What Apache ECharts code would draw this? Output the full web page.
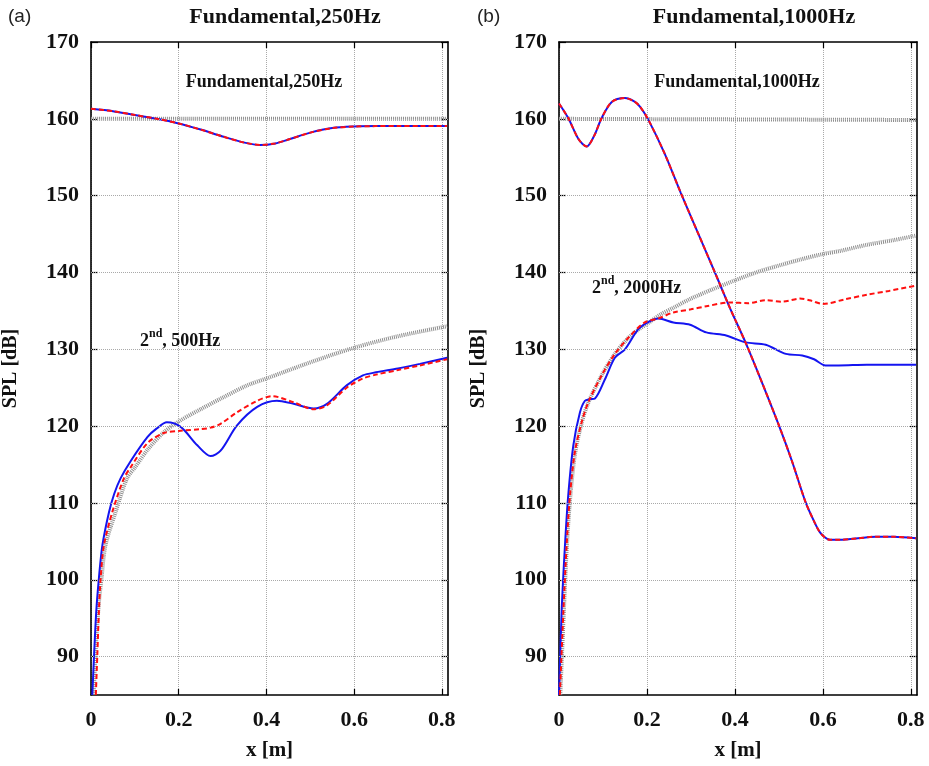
<!DOCTYPE html>
<html><head><meta charset="utf-8">
<script src="https://cdn.jsdelivr.net/npm/echarts@6/dist/echarts.min.js"></script>
<style>html,body{margin:0;padding:0;background:#fff}#c{width:929px;height:766px}</style>
</head><body><div id="c"></div>
<script>
// ---------- Tick labels ----------
const xTicks = [0, 0.2, 0.4, 0.6, 0.8];
const yTicks = [90, 100, 110, 120, 130, 140, 150, 160, 170];

// ---------- Panel (a): 250 Hz ----------
const aFundX    = [0, 0.05, 0.1, 0.15, 0.2, 0.25, 0.3, 0.35, 0.386, 0.42, 0.45, 0.5, 0.55, 0.6, 0.65, 0.7, 0.75, 0.812];
const aFundBlue = [161.3, 161.0, 160.5, 160.0, 159.4, 158.6, 157.7, 156.9, 156.6, 156.8, 157.3, 158.2, 158.8, 159.0, 159.05, 159.05, 159.05, 159.05];
const aFundRed  = [161.3, 161.0, 160.5, 160.0, 159.4, 158.6, 157.7, 156.9, 156.6, 156.8, 157.3, 158.2, 158.8, 159.0, 159.05, 159.05, 159.05, 159.05];
const aFundRefX = [0, 0.812];
const aFundRef  = [160.0, 160.0];

const aSecBlueX = [0.003, 0.007, 0.012, 0.018, 0.026, 0.041, 0.053, 0.0674, 0.091, 0.129, 0.15, 0.173, 0.2045, 0.2424, 0.2727, 0.2955, 0.333, 0.379, 0.424, 0.462, 0.5076, 0.538, 0.583, 0.62, 0.65, 0.7, 0.75, 0.812];
const aSecBlue  = [85, 90.2, 95.9, 100.2, 104.5, 108.8, 111.2, 113.2, 115.5, 118.6, 119.7, 120.5, 119.9, 117.5, 116.1, 116.8, 120.1, 122.5, 123.3, 122.9, 122.3, 122.9, 125.3, 126.6, 127.0, 127.5, 128.1, 128.9];
const aSecRedX  = [0.011, 0.0144, 0.018, 0.022, 0.0295, 0.0485, 0.075, 0.091, 0.129, 0.166, 0.2045, 0.25, 0.273, 0.2955, 0.333, 0.379, 0.413, 0.462, 0.5076, 0.538, 0.583, 0.62, 0.65, 0.7, 0.75, 0.812];
const aSecRed   = [85, 90.2, 95.9, 100.2, 104.5, 108.8, 113.2, 114.7, 117.8, 119.1, 119.4, 119.6, 119.8, 120.3, 121.8, 123.3, 123.9, 123.1, 122.2, 122.7, 125.0, 126.2, 126.7, 127.3, 127.9, 128.7];
const aSecRefX  = [0.006, 0.012, 0.018, 0.024, 0.033, 0.056, 0.082, 0.1, 0.13, 0.166, 0.2, 0.25, 0.3, 0.356, 0.4, 0.5, 0.6, 0.7, 0.812];
const aSecRef   = [85, 92, 97, 100.2, 104.5, 108.8, 113.2, 114.6, 117.0, 119.2, 120.6, 122.2, 123.7, 125.3, 126.2, 128.3, 130.2, 131.7, 133.0];

// ---------- Panel (b): 1000 Hz ----------
const bFundX    = [0, 0.021, 0.045, 0.063, 0.08, 0.097, 0.12, 0.15, 0.17, 0.184, 0.203, 0.24, 0.2766, 0.32, 0.356, 0.39, 0.424, 0.46, 0.5, 0.53, 0.5606, 0.58, 0.593, 0.605, 0.616, 0.639, 0.68, 0.72, 0.76, 0.812];
const bFundBlue = [162.0, 160.1, 157.3, 156.4, 157.8, 160.1, 162.2, 162.7, 162.3, 161.6, 159.9, 155.5, 150.4, 144.6, 139.8, 135.2, 130.9, 125.9, 120.1, 115.4, 110.1, 107.6, 106.2, 105.5, 105.2, 105.2, 105.4, 105.6, 105.6, 105.4];
const bFundRed  = [162.0, 160.1, 157.3, 156.4, 157.8, 160.1, 162.2, 162.7, 162.3, 161.6, 159.9, 155.5, 150.4, 144.6, 139.8, 135.2, 130.9, 125.9, 120.1, 115.4, 110.1, 107.6, 106.2, 105.5, 105.2, 105.2, 105.4, 105.6, 105.6, 105.4];
const bFundRefX = [0, 0.812];
const bFundRef  = [160.0, 159.85];

const bSecBlueX = [0, 0.006, 0.0136, 0.021, 0.0326, 0.0477, 0.059, 0.07, 0.0818, 0.1045, 0.127, 0.15, 0.18, 0.205, 0.226, 0.26, 0.298, 0.335, 0.38, 0.424, 0.47, 0.516, 0.553, 0.58, 0.606, 0.636, 0.7, 0.76, 0.812];
const bSecBlue  = [85, 95.9, 104.5, 111.0, 117.5, 121.8, 123.3, 123.5, 123.6, 126.1, 128.9, 130.0, 132.6, 133.6, 134.0, 133.5, 133.2, 132.2, 131.8, 130.9, 130.6, 129.4, 129.2, 128.7, 127.9, 127.9, 128.0, 128.0, 128.0];
const bSecRedX  = [0.002, 0.01, 0.0174, 0.025, 0.036, 0.0515, 0.0666, 0.097, 0.127, 0.1576, 0.195, 0.226, 0.26, 0.3, 0.335, 0.389, 0.43, 0.47, 0.5076, 0.5477, 0.575, 0.6, 0.65, 0.7, 0.75, 0.812];
const bSecRed   = [85, 95.9, 104.5, 111.0, 116.6, 120.5, 123.1, 126.6, 129.4, 131.5, 133.5, 134.0, 134.8, 135.2, 135.6, 136.1, 136.0, 136.4, 136.2, 136.6, 136.3, 135.9, 136.5, 137.1, 137.6, 138.3];
const bSecRefX  = [0.003, 0.011, 0.018, 0.026, 0.037, 0.052, 0.067, 0.097, 0.127, 0.158, 0.184, 0.2, 0.23, 0.26, 0.3, 0.366, 0.448, 0.5, 0.55, 0.6, 0.639, 0.7, 0.76, 0.812];
const bSecRef   = [85, 95.9, 104.5, 111.0, 116.6, 120.5, 123.1, 126.6, 129.4, 131.5, 132.7, 133.3, 134.5, 135.4, 136.6, 138.2, 140.0, 140.9, 141.7, 142.4, 142.8, 143.6, 144.2, 144.8];

// ---------- Build chart ----------
const SERIF = '"Liberation Serif","Times New Roman",serif';
const SANS = '"Liberation Sans",Arial,sans-serif';
const XMIN = 0, XMAX = 0.814, YMIN = 85, YMAX = 170;
const BLUE = '#1414f0', RED = '#ff1010', GRAY = '#8e8e8e';
const gridLine = { show: true, lineStyle: { color: '#a9a9a9', width: 1, type: [1, 1] } };
const frameLine = { show: true, onZero: false, lineStyle: { color: '#000', width: 1.6 } };

function pairs(xs, ys) { return xs.map((x, i) => [x, ys[i]]); }

const grids = [
  { left: 90, top: 42, width: 358, height: 655 },
  { left: 559, top: 42, width: 358, height: 655 }
];

const xAxes = [], yAxes = [];
[0, 1].forEach(g => {
  xAxes.push({
    type: 'value', gridIndex: g, position: 'bottom', min: XMIN, max: XMAX, interval: 0.2,
    name: 'x [m]', nameLocation: 'middle', nameGap: 45,
    nameTextStyle: { fontFamily: SERIF, fontWeight: 'bold', fontSize: 21, color: '#111' },
    axisLine: frameLine,
    axisTick: { show: true, inside: true, length: 6, lineStyle: { color: '#000', width: 1.2 },
      customValues: xTicks },
    axisLabel: { show: true, margin: 14, fontFamily: SERIF, fontWeight: 'bold', fontSize: 22, color: '#111',
      customValues: xTicks, formatter: v => (Math.round(v * 10) / 10).toString() },
    splitLine: gridLine
  });
  xAxes.push({
    type: 'value', gridIndex: g, position: 'top', min: XMIN, max: XMAX, interval: 0.2,
    axisLine: frameLine,
    axisTick: { show: true, inside: true, length: 6, lineStyle: { color: '#000', width: 1.2 }, customValues: xTicks },
    axisLabel: { show: false }, splitLine: { show: false }
  });
  yAxes.push({
    type: 'value', gridIndex: g, position: 'left', min: YMIN, max: YMAX, interval: 5,
    name: 'SPL [dB]', nameLocation: 'middle', nameGap: 70, nameRotate: 90,
    nameTextStyle: { fontFamily: SERIF, fontWeight: 'bold', fontSize: 20, color: '#111' },
    axisLine: frameLine,
    axisTick: { show: true, inside: true, length: 7, lineStyle: { color: '#000', width: 1.2 }, customValues: yTicks },
    axisLabel: { show: true, margin: 12, fontFamily: SERIF, fontWeight: 'bold', fontSize: 22, color: '#111',
      customValues: yTicks },
    splitLine: { show: false }
  });
  yAxes.push({
    type: 'value', gridIndex: g, position: 'right', min: YMIN, max: YMAX, interval: 5,
    axisLine: frameLine,
    axisTick: { show: true, inside: true, length: 7, lineStyle: { color: '#000', width: 1.2 }, customValues: yTicks },
    axisLabel: { show: false }, splitLine: { show: false }
  });
});

function line(xi, yi, data, color, width, type, z) {
  return {
    type: 'line', xAxisIndex: xi, yAxisIndex: yi, data: data, showSymbol: false, symbol: 'none',
    smooth: 0.3, clip: true, silent: true, z: z,
    lineStyle: { color: color, width: width, type: type }
  };
}

function hGrid(xi, yi) {
  return {
    type: 'line', xAxisIndex: xi, yAxisIndex: yi, data: [], silent: true,
    markLine: {
      silent: true, symbol: 'none', label: { show: false },
      lineStyle: { color: '#a9a9a9', width: 1, type: [1, 1] },
      data: yTicks.filter(v => v < YMAX).map(v => ({ yAxis: v }))
    }, z: 1
  };
}

const series = [
  hGrid(0, 0), hGrid(2, 2),
  // Panel a
  line(0, 0, pairs(aFundRefX, aFundRef), GRAY, 4, [1, 1], 3),
  line(0, 0, pairs(aSecRefX, aSecRef), GRAY, 4, [1, 1], 3),
  line(0, 0, pairs(aFundX, aFundBlue), BLUE, 2, 'solid', 4),
  line(0, 0, pairs(aSecBlueX, aSecBlue), BLUE, 2, 'solid', 4),
  line(0, 0, pairs(aFundX, aFundRed), RED, 2, [5, 3], 5),
  line(0, 0, pairs(aSecRedX, aSecRed), RED, 2, [5, 3], 5),
  // Panel b
  line(2, 2, pairs(bFundRefX, bFundRef), GRAY, 4, [1, 1], 3),
  line(2, 2, pairs(bSecRefX, bSecRef), GRAY, 4, [1, 1], 3),
  line(2, 2, pairs(bFundX, bFundBlue), BLUE, 2, 'solid', 4),
  line(2, 2, pairs(bSecBlueX, bSecBlue), BLUE, 2, 'solid', 4),
  line(2, 2, pairs(bFundX, bFundRed), RED, 2, [5, 3], 5),
  line(2, 2, pairs(bSecRedX, bSecRed), RED, 2, [5, 3], 5)
];

function txt(x, y, text, size) {
  return {
    type: 'text', x: x, y: y, z: 10,
    style: { text: text, fontFamily: SERIF, fontWeight: 'bold', fontSize: size,
      fill: '#111', align: 'center', verticalAlign: 'middle' }
  };
}
const supText = (main, y, x) => ({
  type: 'text', x: x, y: y, z: 10,
  style: {
    text: '{m|2}{s|nd}{m|, ' + main + '}', align: 'left', verticalAlign: 'middle',
    rich: {
      m: { fontFamily: SERIF, fontWeight: 'bold', fontSize: 18, fill: '#111', lineHeight: 22, verticalAlign: 'bottom' },
      s: { fontFamily: SERIF, fontWeight: 'bold', fontSize: 12, fill: '#111', lineHeight: 22, verticalAlign: 'top' }
    }
  }
});

const graphic = [
  { type: 'text', x: 8, y: 17, style: { text: '(a)', fontFamily: SANS, fontSize: 19, fill: '#222', verticalAlign: 'middle' } },
  { type: 'text', x: 477, y: 17, style: { text: '(b)', fontFamily: SANS, fontSize: 19, fill: '#222', verticalAlign: 'middle' } },
  txt(285, 17, 'Fundamental,250Hz', 22),
  txt(754, 17, 'Fundamental,1000Hz', 22),
  txt(264, 82, 'Fundamental,250Hz', 18),
  txt(737, 82, 'Fundamental,1000Hz', 18),
  supText('500Hz', 339, 140),
  supText('2000Hz', 286, 592)
];

const chart = echarts.init(document.getElementById('c'), null, { renderer: 'canvas' });
chart.setOption({
  animation: false, backgroundColor: '#fff',
  grid: grids, xAxis: xAxes, yAxis: yAxes, series: series, graphic: graphic
});
</script></body></html>
